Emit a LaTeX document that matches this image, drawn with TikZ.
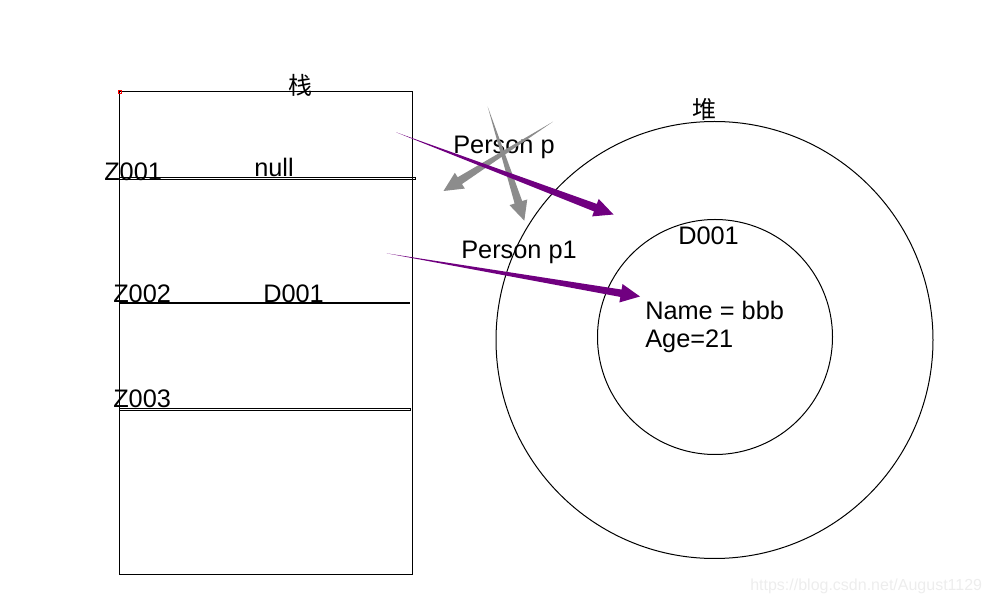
\documentclass[tikz,border=0pt]{standalone}
\usepackage{fontspec}
\setmainfont{Liberation Sans}
\newfontfamily\cjkfont{Noto Sans CJK SC}
\usepackage{xcolor}
\usetikzlibrary{calc}

\definecolor{refpurple}{RGB}{112,0,128}
\definecolor{refgray}{RGB}{140,140,140}

\tikzset{
  lbl/.style={inner sep=0pt, anchor=base west, font=\fontsize{19}{21}\selectfont},
  cjklbl/.style={inner sep=0pt, font=\cjkfont\fontsize{18}{20}\selectfont},
  slot/.style={line width=0.75pt},
}

% wedge shaped arrow: tail, tip, colour, half width of shaft at the head
\newcommand{\wedgearrow}[4]{%
  \coordinate (wa-base) at ($(#2)!14.5pt!(#1)$);
  \fill[#3] (#1) -- ($(wa-base)!#4!90:(#2)$) -- ($(wa-base)!7pt!90:(#2)$) -- (#2)
    -- ($(wa-base)!7pt!-90:(#2)$) -- ($(wa-base)!#4!-90:(#2)$) -- cycle;}

\begin{document}
\begin{tikzpicture}[x=0.75pt,y=0.75pt,yscale=-1,xscale=1]
\useasboundingbox (0,0) rectangle (990,605);

%Stack frame
\draw [slot]  (119.5,91.5) rectangle (412.5,575) ;
\draw [red, line width=0.5pt]  (118.5,90.5) rectangle (121.5,93.5) ;
%Stack slots
\draw [slot]  (119.5,177.3) rectangle (415,180) ;
\draw [line width=1.2pt]  (119.5,303) -- (410,303) ;
\draw [slot]  (119.5,408.3) rectangle (410,411) ;

%Heap circles
\draw [slot]  (714.5,340) circle [radius=218.5] ;
\draw [slot]  (715,337) circle [radius=117.5] ;

% Text Nodes
\node [cjklbl] (zhan) at (300,85) {栈};
\node [cjklbl] (dui) at (704,109) {堆};
\node [lbl] (z001) at (104,181) {Z001};
\node [lbl] (null) at (254,177) {null};
\node [lbl] (z002) at (113,303) {Z002};
\node [lbl] (d001s) at (263,303) {D001};
\node [lbl] (z003) at (113,408) {Z003};
\node [lbl] (d001h) at (678,245) {D001};
\node [lbl] (name) at (645,320) {Name = bbb};
\node [lbl] (age) at (645,348) {Age=21};
\node [lbl] (pp) at (453,154) {Person p};
\node [lbl] (pp1) at (461,259) {Person p1};

%Arrows
\coordinate (p-tail) at (396,132.3);
\coordinate (p-tip) at (613.5,214.5);
\coordinate (p1-tail) at (386.5,253.3);
\coordinate (p1-tip) at (640,296.5);
\coordinate (g1-tail) at (553,121.7);
\coordinate (g1-tip) at (443.5,191);
\coordinate (g2-tail) at (487.7,106.7);
\coordinate (g2-tip) at (524.3,220.7);

\wedgearrow{g1-tail}{g1-tip}{refgray}{3pt}
\wedgearrow{g2-tail}{g2-tip}{refgray}{3pt}
\wedgearrow{p-tail}{p-tip}{refpurple}{3pt}
\wedgearrow{p1-tail}{p1-tip}{refpurple}{2.8pt}

%Watermark
\node [inner sep=0pt, anchor=base west, text=black!7, font=\fontsize{12}{14}\selectfont] (mark) at (750,591) {https://blog.csdn.net/August1129};

\end{tikzpicture}
\end{document}
